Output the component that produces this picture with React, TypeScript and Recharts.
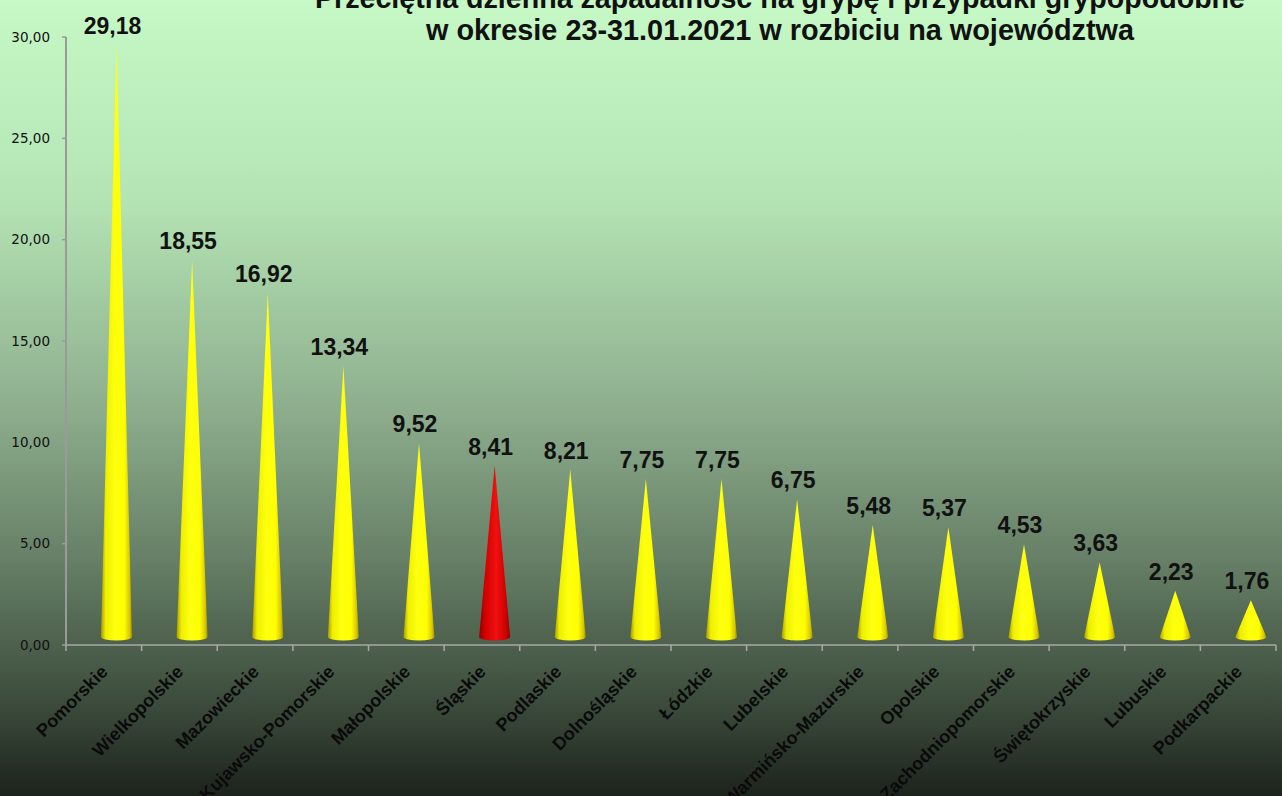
import React from "react";
import { BarChart, Bar, XAxis, YAxis, LabelList } from "recharts";

const regions = [
  "Pomorskie",
  "Wielkopolskie",
  "Mazowieckie",
  "Kujawsko-Pomorskie",
  "Małopolskie",
  "Śląskie",
  "Podlaskie",
  "Dolnośląskie",
  "Łódzkie",
  "Lubelskie",
  "Warmińsko-Mazurskie",
  "Opolskie",
  "Zachodniopomorskie",
  "Świętokrzyskie",
  "Lubuskie",
  "Podkarpackie",
];
const incidence = [29.18, 18.55, 16.92, 13.34, 9.52, 8.41, 8.21, 7.75, 7.75, 6.75, 5.48, 5.37, 4.53, 3.63, 2.23, 1.76];
const highlighted = ["Śląskie"];
const yTicks = [0, 5, 10, 15, 20, 25, 30];
const titleLines = [
  "Przeciętna dzienna zapadalność na grypę i przypadki grypopodobne",
  "w okresie 23-31.01.2021 w rozbiciu na województwa",
];

const data = regions.map((name, i) => ({ name, value: incidence[i] }));

const W = 1282;
const H = 796;
const LEFT = 66;
const RIGHT_MARGIN = 6;
const PLOT_W = W - LEFT - RIGHT_MARGIN;
const BAND = PLOT_W / regions.length;

const fmt = (v: number) => v.toFixed(2).replace(".", ",");

const Cone = (props: any) => {
  const { x, y, width, height, index, payload } = props;
  if (x == null || y == null) return null;
  const red = highlighted.includes(payload?.name);
  const cx = x + width / 2 + 13;
  const half = width / 2;
  const baseY = y + height - 8;
  const tipY = y - 9;
  const id = `cone-grad-${index}`;
  const d = `M ${cx - half} ${baseY} L ${cx} ${tipY} L ${cx + half} ${baseY} A ${half} 3.5 0 0 1 ${cx - half} ${baseY} Z`;
  return (
    <g>
      <defs>
        <linearGradient id={id} x1="0" y1="0" x2="1" y2="0">
          {red ? (
            <>
              <stop offset="0%" stopColor="#8a0000" />
              <stop offset="18%" stopColor="#d00000" />
              <stop offset="55%" stopColor="#f01010" />
              <stop offset="85%" stopColor="#d00000" />
              <stop offset="100%" stopColor="#900000" />
            </>
          ) : (
            <>
              <stop offset="0%" stopColor="#a89a00" />
              <stop offset="15%" stopColor="#eeee00" />
              <stop offset="45%" stopColor="#ffff10" />
              <stop offset="75%" stopColor="#ffff00" />
              <stop offset="92%" stopColor="#d8c800" />
              <stop offset="100%" stopColor="#a09000" />
            </>
          )}
        </linearGradient>
      </defs>
      <path d={d} fill={`url(#${id})`} />
    </g>
  );
};

const ValueLabel = (props: any) => {
  const { x, y, width, value } = props;
  return (
    <text
      x={x + width / 2 + 9}
      y={y - 20}
      textAnchor="middle"
      fontFamily="'Liberation Sans', Arial, sans-serif"
      fontWeight="bold"
      fontSize={23}
      fill="#111"
    >
      {fmt(value)}
    </text>
  );
};

const XTick = (props: any) => {
  const { x, y, payload, index } = props;
  const last = index === regions.length - 1;
  const lx = x + 5;
  const ly = y + 28;
  return (
    <g>
      <line x1={x - BAND / 2} y1={y} x2={x - BAND / 2} y2={y + 6} stroke="#a8a8a8" strokeWidth={1.5} />
      {last && <line x1={x + BAND / 2} y1={y} x2={x + BAND / 2} y2={y + 6} stroke="#a8a8a8" strokeWidth={1.5} />}
      <text
        x={lx}
        y={ly}
        textAnchor="end"
        transform={`rotate(-45 ${lx} ${ly})`}
        fontFamily="'Liberation Sans', Arial, sans-serif"
        fontWeight="bold"
        fontSize={18}
        fill="#0a0a0a"
      >
        {payload.value}
      </text>
    </g>
  );
};

export default function App() {
  return (
    <div
      style={{
        position: "fixed",
        left: 0,
        top: 0,
        width: W,
        height: H,
        overflow: "hidden",
        background:
          "linear-gradient(to bottom, #c6f9c6 0%, #b4e4b4 25%, #90b190 50%, #678067 70%, #4b5e4b 82%, #384638 90%, #1c231c 100%)",
      }}
    >
      <div style={{ position: "absolute", left: 0, top: 0 }}>
        <BarChart
          width={W}
          height={H}
          data={data}
          margin={{ top: 37, right: RIGHT_MARGIN, bottom: 0, left: 0 }}
        >
          <YAxis
            width={LEFT}
            domain={[0, 30]}
            ticks={yTicks}
            tickFormatter={fmt}
            axisLine={{ stroke: "#9a9a9a", strokeWidth: 2 }}
            tickLine={{ stroke: "#9a9a9a", strokeWidth: 1.5 }}
            tickSize={4}
            tickMargin={12}
            tick={{ fontFamily: "'DejaVu Sans', Verdana, sans-serif", fontSize: 13.5, fill: "#111" }}
            interval={0}
          />
          <XAxis
            dataKey="name"
            height={151}
            interval={0}
            tickSize={0}
            tickMargin={0}
            axisLine={{ stroke: "#a8a8a8", strokeWidth: 1.5 }}
            tickLine={false}
            tick={<XTick />}
          />
          <Bar dataKey="value" barSize={31} shape={<Cone />} isAnimationActive={false}>
            <LabelList dataKey="value" content={<ValueLabel />} />
          </Bar>
        </BarChart>
      </div>
      <svg
        width={W}
        height={60}
        style={{ position: "absolute", left: 0, top: 0, pointerEvents: "none" }}
      >
        <text
          x={780}
          y={8}
          textAnchor="middle"
          fontFamily="'Liberation Sans', Arial, sans-serif"
          fontWeight="bold"
          fontSize={30}
          fill="#111"
          textLength={930}
          lengthAdjust="spacingAndGlyphs"
        >
          {titleLines[0]}
        </text>
        <text
          x={780}
          y={40}
          textAnchor="middle"
          fontFamily="'Liberation Sans', Arial, sans-serif"
          fontWeight="bold"
          fontSize={30}
          fill="#111"
          textLength={708}
          lengthAdjust="spacingAndGlyphs"
        >
          {titleLines[1]}
        </text>
      </svg>
    </div>
  );
}
